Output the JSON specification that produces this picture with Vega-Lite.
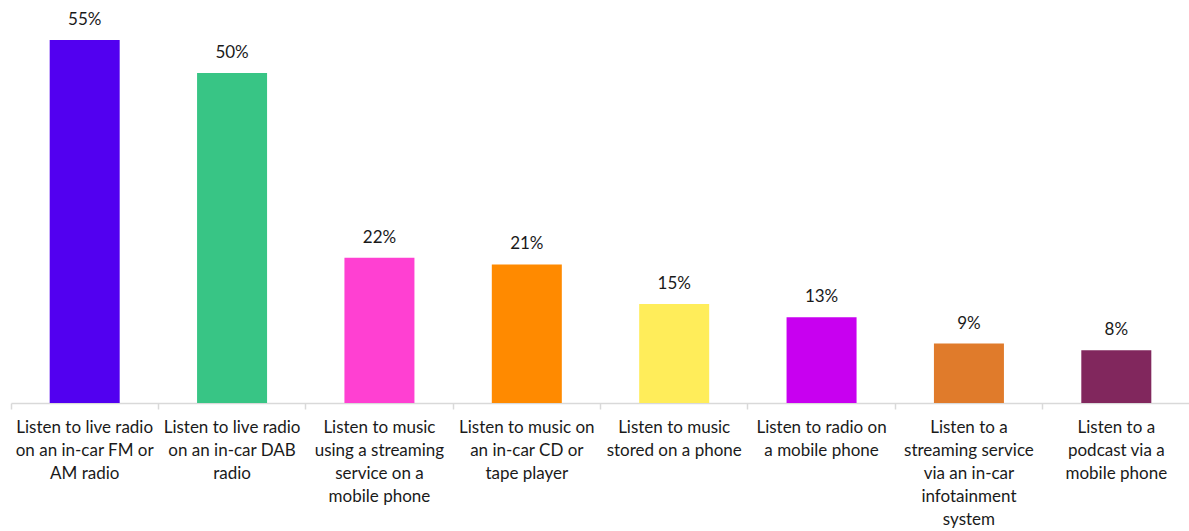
{
  "$schema": "https://vega.github.io/schema/vega-lite/v6.json",
  "autosize": "none",
  "width": 1179,
  "height": 363,
  "padding": {"left": 11, "top": 40, "right": 0, "bottom": 128},
  "background": "white",
  "config": {"view": {"stroke": null}, "font": "Lato"},
  "data": {
    "values": [
      {"label": "Listen to live radio|on an in-car FM or|AM radio", "value": 55, "color": "#5200F0"},
      {"label": "Listen to live radio|on an in-car DAB|radio", "value": 50, "color": "#38C585"},
      {"label": "Listen to music|using a streaming|service on a|mobile phone", "value": 22, "color": "#FF40D2"},
      {"label": "Listen to music on|an in-car CD or|tape player", "value": 21, "color": "#FF8A00"},
      {"label": "Listen to music|stored on a phone", "value": 15, "color": "#FFED5A"},
      {"label": "Listen to radio on|a mobile phone", "value": 13, "color": "#C800F0"},
      {"label": "Listen to a|streaming service|via an in-car|infotainment|system", "value": 9, "color": "#E07B2B"},
      {"label": "Listen to a|podcast via a|mobile phone", "value": 8, "color": "#81275D"}
    ]
  },
  "transform": [{"calculate": "datum.value + '%'", "as": "valueText"}],
  "encoding": {
    "x": {
      "field": "label",
      "type": "nominal",
      "sort": null,
      "scale": {"paddingInner": 0, "paddingOuter": 0},
      "axis": {
        "title": null,
        "labelAngle": 0,
        "labelExpr": "split(datum.label, '|')",
        "labelFontSize": 17,
        "labelColor": "#1a1a1a",
        "labelLineHeight": 23,
        "labelPadding": 10,
        "labelBaseline": "top",
        "domainColor": "#d9d9d9",
        "domainWidth": 1.5,
        "tickColor": "#d9d9d9",
        "tickWidth": 1.5,
        "tickSize": 6,
        "bandPosition": 0,
        "labelLimit": 0
      }
    },
    "y": {
      "field": "value",
      "type": "quantitative",
      "scale": {"domain": [0, 55], "nice": false},
      "axis": null
    }
  },
  "layer": [
    {
      "mark": {"type": "bar", "width": {"band": 0.475}},
      "encoding": {"color": {"field": "color", "type": "nominal", "scale": null}}
    },
    {
      "mark": {"type": "text", "dy": -11, "baseline": "bottom", "fontSize": 17, "color": "#1a1a1a"},
      "encoding": {"text": {"field": "valueText", "type": "nominal"}}
    }
  ]
}
